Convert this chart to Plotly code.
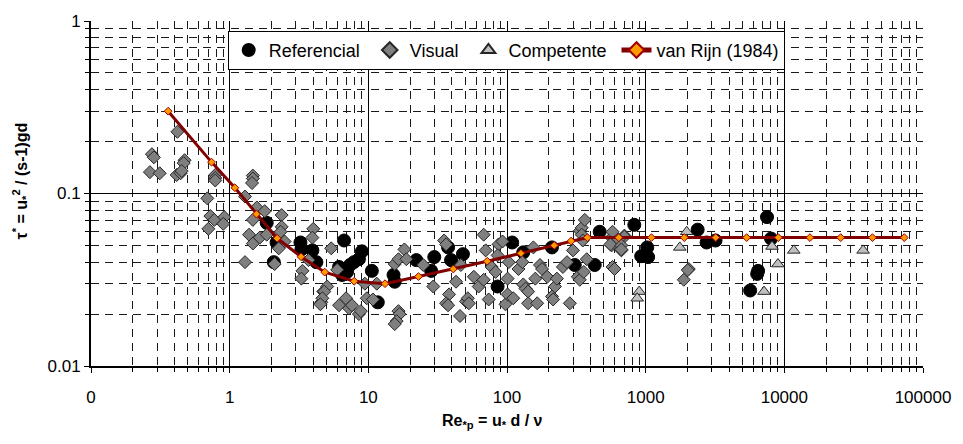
import plotly.graph_objects as go

# ---- data ----
ref_x = [1.85, 2.18, 2.08, 3.24, 3.29, 3.95, 4.22, 6.68, 8.99, 8.55, 7.87, 7.38, 6.15, 6.47, 7.02,
         10.6, 11.7, 15.5, 15.2, 22.2, 29.9, 28.4, 39.5, 48.1, 37.6, 85.5, 109, 131, 211, 308,
         429, 466, 828, 1026, 929, 1042, 2371, 2750, 3190, 7500, 8020, 6470, 6370, 5670]
ref_y = [0.0676, 0.052, 0.040, 0.052, 0.0474, 0.0468, 0.040, 0.0534, 0.0462, 0.0416, 0.040, 0.0385,
         0.0375, 0.0337, 0.0351, 0.0356, 0.0234, 0.0308, 0.0337, 0.0411, 0.0428, 0.0356, 0.0411,
         0.0445, 0.0487, 0.0289, 0.052, 0.0456, 0.0487, 0.0385, 0.0385, 0.060, 0.0658, 0.0487,
         0.0433, 0.0428, 0.0617, 0.052, 0.0534, 0.073, 0.0548, 0.0356, 0.0342, 0.0274]

vis_x = [0.42, 0.275, 0.284, 0.473, 0.466, 0.266, 0.313, 0.415, 0.443, 0.451, 0.787, 0.787, 0.787,
         1.47, 1.47, 1.45, 0.69, 1.29, 1.57, 1.79, 0.726, 0.775, 0.914, 0.899, 0.702, 1.47, 2.37,
         2.37, 2.33, 1.38, 1.47, 1.65, 1.85, 2.49, 2.26, 1.29, 2.11, 4.01, 3.95, 3.70, 3.35, 3.29,
         4.73, 4.58, 5.40, 5.96, 5.05, 4.81, 4.66, 4.51, 6.15, 6.91, 7.26, 7.62, 8.55, 8.83, 9.44,
         9.75, 10.8, 11.5, 15.5, 16.5, 18.2, 18.8, 16.5, 16.8, 16.0, 15.5, 24.9, 29.4, 35.2, 36.4,
         38.2, 36.4, 37.6, 42.9, 46.5, 50.6, 52.2, 53.1, 45.8, 57.7, 62.5, 67.9, 67.9, 70.2, 73.8,
         77.5, 82.8, 86.9, 92.9, 85.5, 101, 97.5, 101, 103, 111, 121, 129, 131, 136, 142, 142, 155,
         160, 165, 173, 179, 195, 211, 215, 222, 229, 253, 271, 284, 324, 335, 335, 346, 364, 346,
         352, 299, 358, 376, 567, 567, 577, 668, 702, 577, 702, 637, 557, 668, 668, 596, 1884,
         2046, 2013]
vis_y = [0.228, 0.169, 0.162, 0.156, 0.150, 0.133, 0.131, 0.128, 0.131, 0.135, 0.128, 0.123, 0.119,
         0.127, 0.122, 0.115, 0.0937, 0.096, 0.083, 0.079, 0.074, 0.0703, 0.073, 0.0667, 0.0624,
         0.0703, 0.075, 0.0641, 0.060, 0.0577, 0.0513, 0.0555, 0.0577, 0.0527, 0.0481, 0.040,
         0.039, 0.0624, 0.0555, 0.0411, 0.0356, 0.0321, 0.0270, 0.0234, 0.0481, 0.0361, 0.0289,
         0.0270, 0.0247, 0.0228, 0.0225, 0.0247, 0.0216, 0.0225, 0.020, 0.0208, 0.030, 0.0247,
         0.0243, 0.030, 0.039, 0.0416, 0.0474, 0.0416, 0.0208, 0.020, 0.0182, 0.0175, 0.0385,
         0.0289, 0.0534, 0.0507, 0.026, 0.0231, 0.0225, 0.0308, 0.0385, 0.0237, 0.0247, 0.0231,
         0.0195, 0.0329, 0.0289, 0.0316, 0.0577, 0.0468, 0.0243, 0.0375, 0.0351, 0.0507, 0.0527,
         0.0438, 0.0321, 0.0228, 0.026, 0.040, 0.0247, 0.0365, 0.040, 0.0297, 0.0281, 0.027,
         0.0231, 0.0487, 0.0321, 0.0231, 0.0385, 0.0365, 0.0329, 0.0253, 0.0243, 0.0289, 0.0321,
         0.0375, 0.040, 0.0231, 0.0329, 0.0316, 0.0608, 0.0633, 0.0703, 0.0577, 0.0534, 0.0468,
         0.0351, 0.0416, 0.0555, 0.050, 0.0375, 0.0468, 0.057, 0.060, 0.0562, 0.0541, 0.0507,
         0.050, 0.0474, 0.0365, 0.0316, 0.0365, 0.036]

comp_x = [1977, 1763, 899, 869, 8150, 8990, 7140, 11700, 37000]
comp_y = [0.060, 0.0487, 0.027, 0.0247, 0.0493, 0.039, 0.027, 0.0468, 0.0468]

vr_x = [0.36, 0.74, 1.09, 1.56, 2.2, 3.27, 4.85, 7.9, 13.2, 23, 41, 72, 126, 219, 290, 380, 640,
        1100, 1900, 3200, 5350, 9060, 15300, 25500, 43200, 73200]
vr_y = [0.30, 0.152, 0.108, 0.076, 0.055, 0.043, 0.035, 0.031, 0.030, 0.033, 0.0365, 0.0405,
        0.045, 0.050, 0.053, 0.0555, 0.0555, 0.0555, 0.0555, 0.0555, 0.0555, 0.0555, 0.0555,
        0.0555, 0.0555, 0.0555]

series_names = ["Referencial", "Visual", "Competente", "van Rijn (1984)"]

FONT = "Liberation Sans, Arial, sans-serif"
PAD = "\u00a0"

fig = go.Figure()
fig.add_trace(go.Scatter(x=ref_x, y=ref_y, mode="markers", name=series_names[0] + PAD,
                         marker=dict(symbol="circle", size=13, color="black",
                                     line=dict(color="black", width=1))))
fig.add_trace(go.Scatter(x=vis_x, y=vis_y, mode="markers", name=series_names[1] + PAD,
                         marker=dict(symbol="diamond", size=10, color="#7f7f7f",
                                     line=dict(color="#262626", width=1))))
fig.add_trace(go.Scatter(x=comp_x, y=comp_y, mode="markers", name=series_names[2] + PAD,
                         marker=dict(symbol="triangle-up", size=11, color="#bfbfbf",
                                     line=dict(color="#262626", width=1))))
fig.add_trace(go.Scatter(x=vr_x, y=vr_y, mode="lines+markers", name=series_names[3],
                         line=dict(color="#800000", width=3),
                         marker=dict(symbol="diamond", size=6, color="#ff9900",
                                     line=dict(color="#a00000", width=1))))

grid_minor = dict(dtick="D1", showgrid=True, gridcolor="#1a1a1a", gridwidth=1,
                  griddash="8px,6px", ticks="outside", ticklen=4, tickcolor="black")

fig.update_xaxes(type="log", range=[-1, 5], dtick=1, tickformat="d",
                 showgrid=True, gridcolor="black", gridwidth=1,
                 showline=True, linecolor="black", linewidth=2,
                 ticks="outside", ticklen=5, tickcolor="black",
                 ticklabelstandoff=10,
                 tickfont=dict(family=FONT, size=17, color="black"),
                 minor=grid_minor)
fig.update_yaxes(type="log", range=[-2, 0], dtick=1, tickformat="~g",
                 showgrid=True, gridcolor="black", gridwidth=1,
                 showline=True, linecolor="black", linewidth=2,
                 ticks="outside", ticklen=5, tickcolor="black",
                 tickfont=dict(family=FONT, size=17, color="black"),
                 minor=grid_minor)

fig.add_annotation(xref="paper", yref="paper", x=(496 - 91) / 840, y=(366 - 423) / 352,
                   text="<b>Re<sub>*p</sub> = u<sub>*</sub> d / ν</b>", showarrow=False,
                   xanchor="center", yanchor="middle",
                   font=dict(family=FONT, size=16, color="black"))
fig.add_annotation(xref="paper", yref="paper", x=(20 - 91) / 840, y=(366 - 177) / 352,
                   text="<b>τ<sup>*</sup> = u<sub>*</sub><sup>2</sup> / (s-1)gd</b>",
                   showarrow=False, textangle=-90, xanchor="center", yanchor="middle",
                   font=dict(family=FONT, size=16, color="black"))

fig.update_layout(
    width=963, height=444,
    margin=dict(l=91, r=32, t=14, b=78),
    paper_bgcolor="white", plot_bgcolor="white",
    font=dict(family=FONT, size=17, color="black"),
    legend=dict(orientation="h", x=(229 - 91) / 840, y=(366 - 24) / 352,
                xanchor="left", yanchor="top",
                bgcolor="white", bordercolor="black", borderwidth=1,
                font=dict(family=FONT, size=18, color="black"),
                itemsizing="constant"),
    showlegend=True,
)

fig.write_html("out.html")
